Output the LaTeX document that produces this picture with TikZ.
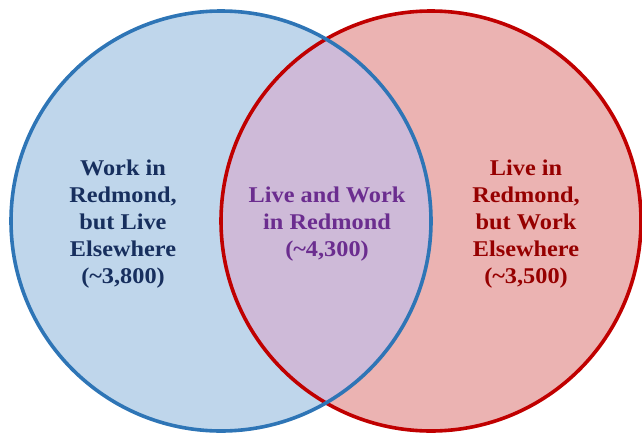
\documentclass[tikz,border=0pt]{standalone}
\usepackage{fontspec}
\setmainfont{Liberation Serif}[FakeStretch=1.08]
\definecolor{bluefill}{HTML}{BFD6EB}
\definecolor{redfill}{HTML}{EBB3B2}
\definecolor{mixfill}{HTML}{CEBAD8}
\definecolor{bluestroke}{HTML}{2E75B6}
\definecolor{redstroke}{HTML}{C00000}
\definecolor{bluetext}{HTML}{172F5E}
\definecolor{purpletext}{HTML}{6B2D8F}
\definecolor{redtext}{HTML}{960000}
\begin{document}
\begin{tikzpicture}[x=1pt,y=-1pt,
  lbl/.style={align=center,font=\fontsize{22.5}{27}\selectfont\bfseries,inner sep=0pt},
  ring/.style={line width=3.6pt}]
\useasboundingbox (0,0) rectangle (642,434);
\coordinate (bc) at (221,221);
\coordinate (rc) at (431,221);
\fill[bluefill] (bc) circle[radius=210];
\fill[redfill] (rc) circle[radius=210];
\begin{scope}
  \clip (bc) circle[radius=210];
  \fill[mixfill] (rc) circle[radius=210];
\end{scope}
\draw[ring,redstroke] (rc) circle[radius=210];
\draw[ring,bluestroke] (bc) circle[radius=210];
\node[lbl,text=bluetext] (work) at (123,224) {Work in\\Redmond,\\but Live\\Elsewhere\\(\textasciitilde3,800)};
\node[lbl,text=purpletext] (both) at (327,224) {Live and Work\\in Redmond\\(\textasciitilde4,300)};
\node[lbl,text=redtext] (live) at (526,224) {Live in\\Redmond,\\but Work\\Elsewhere\\(\textasciitilde3,500)};
\end{tikzpicture}
\end{document}
